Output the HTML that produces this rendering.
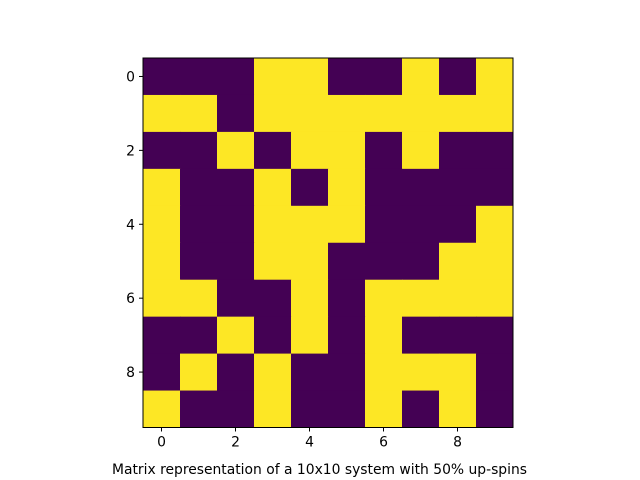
<!DOCTYPE html>
<html><head><meta charset="utf-8"><style>
html,body{margin:0;padding:0;background:#fff;}
svg{display:block;font-family:"DejaVu Sans","Liberation Sans",sans-serif;}
</style></head><body>
<svg id="chart" width="640" height="480" viewBox="0 0 640 480">
<g id="cells"></g>
<rect x="143" y="58" width="370" height="369.5" fill="none" stroke="#000" stroke-width="1"/>
<g id="axes"></g>
<text x="112" y="474" textLength="415" lengthAdjust="spacingAndGlyphs" font-size="13.9">Matrix representation of a 10x10 system with 50% up-spins</text>
</svg>
<script>
const rows = [
"0001100101",
"1101111111",
"0010110100",
"1001010000",
"1001110001",
"1001100011",
"1100101111",
"0010101000",
"0101001110",
"1001001010"
];
const xTicks = [0,2,4,6,8];
const yTicks = [0,2,4,6,8];
const NS="http://www.w3.org/2000/svg";
const x0=143,y0=58,W=370,H=369.5,n=10;
const cw=W/n,ch=H/n;
function xs(i){return x0+i*cw;}
function ys(j){return y0+j*ch;}
const cells=document.getElementById('cells');
rows.forEach((r,j)=>{for(let i=0;i<n;i++){
 const el=document.createElementNS(NS,'rect');
 el.setAttribute('x',xs(i));el.setAttribute('y',ys(j));
 el.setAttribute('width',cw+0.5);el.setAttribute('height',ch+0.5);
 el.setAttribute('fill',r[i]==='1'?'#fde725':'#440154');
 
 
 cells.appendChild(el);
}});
const axes=document.getElementById('axes');
xTicks.forEach(t=>{
 const cx=xs(t)+cw/2;
 const l=document.createElementNS(NS,'line');
 l.setAttribute('x1',cx);l.setAttribute('x2',cx);l.setAttribute('y1',y0+H);l.setAttribute('y2',y0+H+4);l.setAttribute('stroke','#000');
 
 
 axes.appendChild(l);
 const tx=document.createElementNS(NS,'text');
 tx.setAttribute('x',cx);tx.setAttribute('y',y0+H+19);tx.setAttribute('text-anchor','middle');tx.setAttribute('font-size','13.9');tx.textContent=t;
 
 
 axes.appendChild(tx);
});
yTicks.forEach(t=>{
 const cy=ys(t)+ch/2;
 const l=document.createElementNS(NS,'line');
 l.setAttribute('x1',x0-4);l.setAttribute('x2',x0);l.setAttribute('y1',cy);l.setAttribute('y2',cy);l.setAttribute('stroke','#000');
 
 
 axes.appendChild(l);
 const tx=document.createElementNS(NS,'text');
 tx.setAttribute('x',x0-8);tx.setAttribute('y',cy+5);tx.setAttribute('text-anchor','end');tx.setAttribute('font-size','13.9');tx.textContent=t;
 
 
 axes.appendChild(tx);
});
</script>
</body></html>
